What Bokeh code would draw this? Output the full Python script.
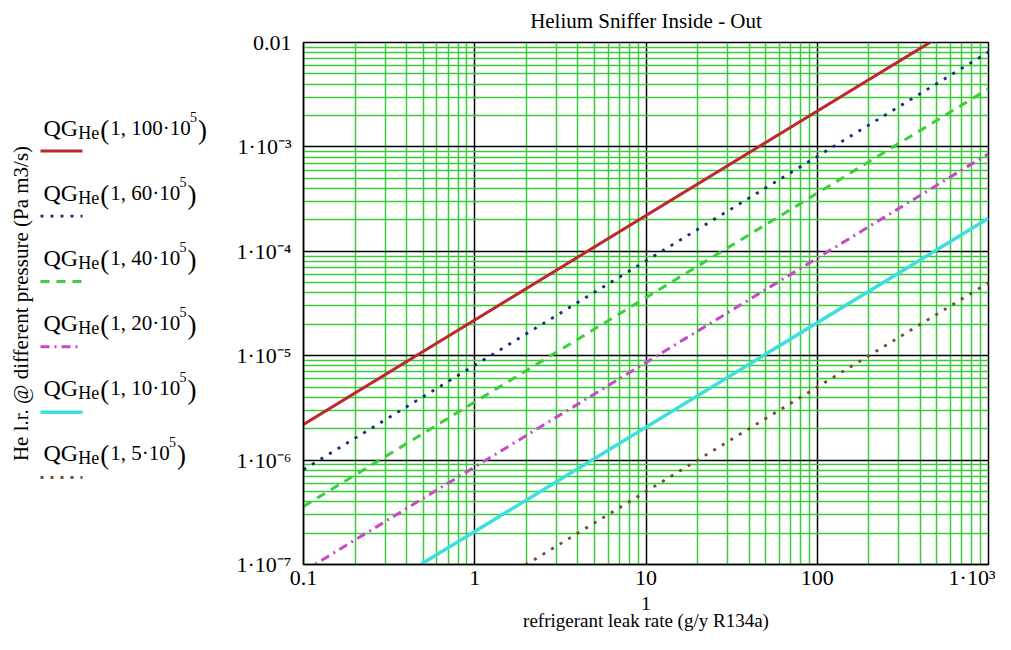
from bokeh.plotting import figure
from bokeh.layouts import row
from bokeh.models import FixedTicker
from bokeh.core.properties import value
from bokeh.embed import file_html
from bokeh.resources import INLINE

# ---- data ----
leak_rate = [0.1, 1000.0]                 # g/y R134a
q_100 = [2.2e-6, 2.2e-2]
q_60 = [8.1e-7, 8.1e-3]
q_40 = [3.6e-7, 3.6e-3]
q_20 = [8.6e-8, 8.6e-4]
q_10 = [2.07e-8, 2.07e-4]
q_5 = [5.0e-9, 5.0e-5]
pressures = ["100", "60", "40", "20", "10", "5"]
series = [q_100, q_60, q_40, q_20, q_10, q_5]

x_ticks = [0.1, 1, 10, 100, 1000]
x_tick_labels = ["0.1", "1", "10", "100", "1·10³"]
y_ticks = [1e-7, 1e-6, 1e-5, 1e-4, 1e-3, 1e-2]
y_tick_labels = ["1·10⁻⁷", "1·10⁻⁶", "1·10⁻⁵", "1·10⁻⁴", "1·10⁻³", "0.01"]

# ---- styles ----
colors = ["#c0272d", "#1c2a78", "#3ccf3c", "#c848c8", "#3ddede", "#7a4a2a"]
dashes = ["solid", "3 7", "9 7", "9 5 2 5", "solid", "3 7"]
widths = [3, 2.8, 3, 3, 3.5, 2.8]
FONT = "Liberation Serif"
H = 634
TOP, BOTTOM = 42, 567        # frame top / bottom (pixels)
LEG_W = 220                  # width of the legend column

# ================= main plot =================
p = figure(width=995 - LEG_W, height=H, x_axis_type="log", y_axis_type="log",
           x_range=(0.1, 1000), y_range=(1e-7, 1e-2),
           output_backend="svg", toolbar_location=None,
           min_border_left=303 - LEG_W, min_border_right=7,
           min_border_top=TOP, min_border_bottom=H - BOTTOM)
p.background_fill_color = "white"
p.border_fill_color = "white"
p.outline_line_color = "black"
p.outline_line_width = 1.5

p.title.text = "Helium Sniffer Inside - Out"
p.title.align = "center"
p.title.vertical_align = "top"
p.title.text_font = FONT
p.title.text_font_size = "21px"
p.title.text_font_style = "normal"
p.title.text_color = "black"
p.title.standoff = 15

minor_x = [m * 10.0 ** k for k in range(-1, 3) for m in range(2, 10)]
minor_y = [m * 10.0 ** k for k in range(-7, -2) for m in range(2, 10)]
p.xaxis.ticker = FixedTicker(ticks=x_ticks, minor_ticks=minor_x)
p.yaxis.ticker = FixedTicker(ticks=y_ticks, minor_ticks=minor_y)
p.xaxis.major_label_overrides = dict(zip(x_ticks, x_tick_labels))
p.yaxis.major_label_overrides = dict(zip(y_ticks, y_tick_labels))

for ax in (p.xaxis, p.yaxis):
    ax.axis_line_color = "black"
    ax.axis_line_width = 1.5
    ax.major_tick_in = 0
    ax.major_tick_out = 0
    ax.minor_tick_in = 0
    ax.minor_tick_out = 0
    ax.major_label_text_font = FONT
    ax.major_label_text_font_size = "22px"
    ax.major_label_text_color = "black"
    ax.axis_label_text_font = FONT
    ax.axis_label_text_font_style = "normal"
    ax.axis_label_text_color = "black"

p.xaxis.major_label_standoff = 0
p.yaxis.major_label_standoff = 12
p.xaxis.axis_label = "1\nrefrigerant leak rate (g/y R134a)"
p.xaxis.axis_label_text_font_size = "19px"
p.xaxis.axis_label_text_line_height = 0.85
p.xaxis.axis_label_standoff = 0

for g in (p.xgrid, p.ygrid):
    g.grid_line_color = "black"
    g.grid_line_width = 1.5
    g.grid_line_alpha = 1.0
    g.minor_grid_line_color = "#3ec83e"
    g.minor_grid_line_width = 1.5
    g.minor_grid_line_alpha = 1.0

for q, c, d, w in zip(series, colors, dashes, widths):
    p.line(leak_rate, q, line_color=c, line_dash=d, line_width=w)

# ================= legend column (Mathcad style) =================
LEG_L = 34
leg = figure(width=LEG_W, height=H, x_range=(LEG_L, LEG_W), y_range=(BOTTOM, TOP),
             output_backend="svg", toolbar_location=None,
             min_border_left=LEG_L, min_border_right=0,
             min_border_top=TOP, min_border_bottom=H - BOTTOM)
leg.outline_line_color = None
leg.grid.visible = False
leg.xaxis.visible = False
leg.background_fill_color = "white"
leg.border_fill_color = "white"
ya = leg.yaxis[0]
ya.ticker = FixedTicker(ticks=[])
ya.axis_line_color = None
ya.major_tick_out = 0
ya.minor_tick_out = 0
ya.axis_label = "He l.r. @ different pressure (Pa m3/s)"
ya.axis_label_text_font = FONT
ya.axis_label_text_font_size = "21px"
ya.axis_label_text_font_style = "normal"
ya.axis_label_text_color = "black"
ya.axis_label_standoff = 2

char_w = {"0": .5, "1": .5, "2": .5, "3": .5, "4": .5, "5": .5, "6": .5,
          "7": .5, "8": .5, "9": .5, ",": .25, " ": .25, "·": .25}


def tw(s, size):
    return sum(char_w.get(ch, .5) for ch in s) * size


pieces = {}  # size -> (xs, ys, texts)


def piece(text, x, y, size):
    xs, ys, ts = pieces.setdefault(size, ([], [], []))
    xs.append(x)
    ys.append(y)
    ts.append(text)


for i, pr in enumerate(pressures):
    base = 128 + 65.4 * i
    x0 = 43
    piece("QG", x0, base, 24)
    x1 = x0 + 1.444 * 24
    piece("He", x1, base + 5, 18)
    x2 = x1 + 1.166 * 18 + 1
    piece("(", x2, base + 2, 27)
    x3 = x2 + 0.333 * 27 + 1
    body = "1, " + pr + "·10"
    piece(body, x3, base, 21)
    x4 = x3 + tw(body, 21) + 1
    piece("5", x4, base - 11, 14)
    x5 = x4 + 8
    piece(")", x5, base + 2, 27)
    sy = 151 + 65.7 * i
    leg.line([40, 82], [sy, sy], line_color=colors[i], line_dash=dashes[i],
             line_width=widths[i])

for size, (xs, ys, ts) in pieces.items():
    leg.text(x=xs, y=ys, text=ts, text_font=value(FONT),
             text_font_size=value(f"{size}px"), text_color="black",
             text_baseline="alphabetic", text_align="left")

layout = row(leg, p)
open("out.html", "w").write(file_html(layout, INLINE))
